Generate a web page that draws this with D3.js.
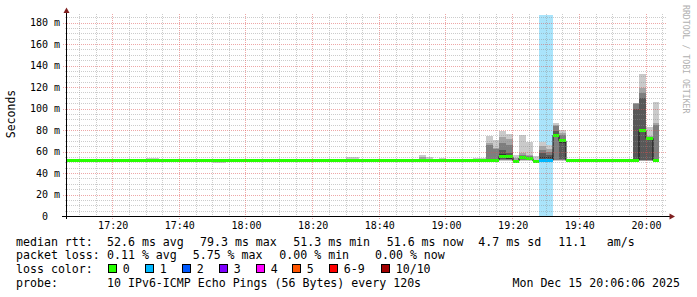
<!DOCTYPE html>
<html><head><meta charset="utf-8">
<script src="https://cdn.jsdelivr.net/npm/d3@7"></script>
<style>
html,body{margin:0;padding:0;background:#fff;}
svg{display:block;}
text{font-family:"DejaVu Sans Mono",monospace;}
</style></head><body>
<svg id="c" width="697" height="297"></svg>
<script>
// ---------- data ----------
const startTime = new Date(2025, 11, 15, 17, 6, 0);
const endTime = new Date(2025, 11, 15, 20, 6, 0);
const stepSeconds = 120;
// median rtt (ms) per 120 s step
const medians = [
  51.7,51.6,51.7,51.8,51.7,51.6,51.7,51.7,51.8,51.7,
  51.7,51.8,51.9,52.0,51.9,51.7,51.6,51.7,51.7,51.6,
  51.6,51.5,51.4,51.3,51.6,51.7,51.7,51.8,51.7,51.6,
  51.7,51.7,51.6,51.7,51.8,51.7,51.7,51.6,51.7,51.7,
  51.8,51.9,51.9,51.9,51.8,51.7,51.6,51.5,51.5,51.5,
  51.5,51.6,51.7,51.9,51.9,51.6,51.9,51.8,51.7,51.7,
  51.8,51.9,51.9,51.9,51.9,55.5,55.0,51.0,54.0,53.5,
  51.0,51.9,51.9,75.3,70.0,51.6,51.7,51.7,51.8,51.7,
  51.7,51.6,51.7,51.7,51.6,51.8,79.3,72.3,51.6
];
// steps with packet loss (%)
const lossSteps = [71, 72];
const lossValues = [5.75, 4.05];
// sorted 10 pings (ms) for steps with visible smoke
const smokeSteps = [12,13,22,23,42,43,53,54,56,61,62,63,64,65,66,67,68,69,70,71,72,73,74,85,86,87,88];
const smokePings = [
  [51.5,51.6,51.7,51.8,51.9,52.0,52.1,52.3,52.8,53.8],
  [51.6,51.7,51.8,51.9,52.0,52.0,52.2,52.4,53.0,54.0],
  [49.2,50.3,50.8,51.1,51.3,51.4,51.5,51.6,51.8,52.0],
  [49.4,50.4,50.9,51.1,51.2,51.3,51.4,51.5,51.7,51.9],
  [51.5,51.7,51.8,52.0,52.1,52.1,52.3,52.6,53.5,55.0],
  [51.4,51.6,51.8,51.9,52.0,52.0,52.2,52.5,53.4,54.8],
  [51.6,51.8,52.0,52.1,52.2,52.2,52.4,53.0,54.5,56.7],
  [51.5,51.7,51.8,51.9,52.0,52.0,52.2,52.6,53.5,55.2],
  [51.4,51.6,51.7,51.8,51.9,51.9,52.1,52.4,53.0,54.2],
  [51.5,51.6,51.7,51.8,51.9,52.0,52.2,52.5,53.2,54.0],
  [51.6,51.7,51.8,51.9,52.0,52.1,52.3,52.7,53.4,54.3],
  [51.0,51.3,51.5,51.7,51.9,52.0,52.5,66.0,67.5,74.7],
  [51.0,51.3,51.5,51.7,51.9,52.0,52.4,62.5,63.5,71.0],
  [51.5,52.0,52.5,53.5,54.0,58.0,61.4,68.0,73.8,79.0],
  [51.5,52.0,52.5,53.0,53.5,56.5,58.9,66.0,71.6,76.6],
  [51.0,51.2,51.3,51.4,51.5,51.6,51.8,52.5,54.0,56.7],
  [51.5,52.0,52.5,53.0,53.5,54.5,55.8,57.0,58.3,75.6],
  [51.5,51.8,52.0,52.5,53.0,54.0,54.5,55.5,56.7,69.0],
  [50.5,50.7,50.8,50.9,51.0,51.1,51.2,51.4,52.0,55.8],
  [51.0,51.5,52.0,53.0,54.0,55.0,58.3,61.4,65.0,69.0],
  [51.0,51.5,52.0,53.0,54.0,55.0,57.0,59.8,62.0,66.0],
  [51.5,52.0,52.5,74.0,75.0,75.5,79.4,83.7,84.5,86.8],
  [51.5,52.0,52.5,53.0,68.0,70.0,72.0,75.0,77.5,80.0],
  [51.0,51.3,51.6,52.0,52.0,52.0,100.0,104.0,104.8,105.4],
  [51.0,51.5,52.0,52.5,78.0,80.0,110.0,114.7,118.8,132.0],
  [51.0,51.5,52.0,52.5,71.0,72.5,73.0,73.5,74.0,83.0],
  [51.0,51.3,51.5,51.7,51.9,52.0,52.5,85.0,86.5,106.3]
];
const yTickValues = [0,20,40,60,80,100,120,140,160,180];
const smokeColors = ["#cacaca","#a4a4a4","#7e7e7e","#585858","#323232"];
const lossLabels = ["0","1","2","3","4","5","6-9","10/10"];
const lossColors = ["#26ff00","#00b8ff","#0059ff","#7e00ff","#ff00ff","#ff5500","#ff0000","#a10000"];
const rttLegend = [["median rtt:",16],["52.6 ms avg",107],["79.3 ms max",200],["51.3 ms min",293.3],["51.6 ms now",386.7],["4.7 ms sd",478.3],["11.1",558.3],["am/s",606.7]];
const lossLegend = [["packet loss:",16],["0.11 % avg",107],["5.75 % max",192.7],["0.00 % min",279.3],["0.00 % now",375]];
const probeText = "10 IPv6-ICMP Echo Pings (56 Bytes) every 120s";
const dateText = "Mon Dec 15 20:06:06 2025";

// ---------- chart ----------
const svg = d3.select("#c");
const L = 66, R = 666, T = 14, B = 216;
const x = d3.scaleTime().domain([startTime, endTime]).range([L, R]);
const y = d3.scaleLinear().domain([0, 188]).range([B, T]);
const tOf = i => new Date(startTime.getTime() + i * stepSeconds * 1000);
const px = i => Math.round(x(tOf(i)));

svg.append("rect").attr("width",697).attr("height",297).attr("fill","#fff");

// loss bands
svg.append("g").selectAll("rect").data(lossSteps).join("rect")
  .attr("x", d => px(d)).attr("width", d => px(d+1) - px(d))
  .attr("y", T + 1).attr("height", B - T - 1)
  .attr("fill", "#aae4fb");

// smoke
const sg = svg.append("g").attr("shape-rendering","crispEdges");
smokeSteps.forEach((s, k) => {
  const p = smokePings[k];
  for (let l = 0; l < 5; l++) {
    const lo = p[l], hi = p[9 - l];
    if (hi - lo <= 0) continue;
    sg.append("rect")
      .attr("x", px(s)).attr("width", px(s+1) - px(s))
      .attr("y", y(hi)).attr("height", y(lo) - y(hi))
      .attr("fill", smokeColors[l]);
  }
});

// median step line (black) then coloured median segments
const medPts = medians.map((m, i) => [i, m]).concat([[medians.length, medians[medians.length-1]]]);
svg.append("path")
  .attr("d", d3.line().x(d => px(d[0])).y(d => y(d[1])).curve(d3.curveStepAfter)(medPts))
  .attr("fill","none").attr("stroke","#111").attr("stroke-width",1);
const lossOf = i => { const j = lossSteps.indexOf(i); return j < 0 ? 0 : lossValues[j]; };
svg.append("g").attr("shape-rendering","crispEdges").selectAll("rect").data(medians).join("rect")
  .attr("x", (d, i) => px(i)).attr("width", (d, i) => px(i+1) - px(i))
  .attr("y", d => Math.round(y(d) - 1.5)).attr("height", 3)
  .attr("fill", (d, i) => lossOf(i) > 0 ? lossColors[1] : lossColors[0]);

// grid (drawn on top, translucent, dotted)
const gg = svg.append("g").attr("shape-rendering","crispEdges");
d3.range(5, 188, 5).forEach(v => {
  const yy = Math.round(y(v)) + 0.5;
  const major = v % 20 === 0;
  gg.append("line").attr("x1", L - (major ? 3 : 1)).attr("x2", R).attr("y1", yy).attr("y2", yy)
    .attr("stroke", major ? "rgba(222,80,80,0.5)" : "rgba(143,143,143,0.45)")
    .attr("stroke-dasharray", "1,1");
});
x.ticks(d3.timeMinute.every(5)).forEach(t => {
  const xx = Math.floor(x(t)) + 0.5;
  const major = t.getMinutes() % 20 === 0;
  gg.append("line").attr("x1", xx).attr("x2", xx).attr("y1", T).attr("y2", B + (major ? 3 : 1))
    .attr("stroke", major ? "rgba(222,80,80,0.5)" : "rgba(143,143,143,0.45)")
    .attr("stroke-dasharray", "1,1");
});

// axes lines
svg.append("line").attr("x1", 62).attr("x2", 670).attr("y1", B + 0.5).attr("y2", B + 0.5)
  .attr("stroke","#000").attr("shape-rendering","crispEdges");
svg.append("line").attr("x1", L + 0.5).attr("x2", L + 0.5).attr("y1", B + 3).attr("y2", 12)
  .attr("stroke","#000").attr("shape-rendering","crispEdges");
svg.append("path").attr("d", `M${L+0.5},7.5L${L+3.5},13L${L-2.5},13Z`).attr("fill","#7f1f1f");
svg.append("path").attr("d", `M675,${B+0.5}L669.5,${B-2.5}L669.5,${B+3.5}Z`).attr("fill","#7f1f1f");

// axis labels via d3 axes
const yAxis = svg.append("g").attr("transform", `translate(${L},0)`)
  .call(d3.axisLeft(y).tickValues(yTickValues).tickSize(0).tickPadding(6)
    .tickFormat(d => d === 0 ? "0\u00a0\u00a0" : d + " m"));
yAxis.select(".domain").remove();
yAxis.selectAll("text").attr("font-family","DejaVu Sans Mono").attr("font-size","10px").attr("fill","#000");

const xAxis = svg.append("g").attr("transform", `translate(0,${B})`)
  .call(d3.axisBottom(x).ticks(d3.timeMinute.every(20)).tickSize(0).tickPadding(6)
    .tickFormat(d3.timeFormat("%H:%M")));
xAxis.select(".domain").remove();
xAxis.selectAll("text").attr("font-family","DejaVu Sans Mono").attr("font-size","10px").attr("fill","#000");

// y title
svg.append("text").attr("transform","translate(15,114) rotate(-90)")
  .attr("text-anchor","middle").attr("font-family","DejaVu Sans").attr("font-size","11.5px")
  .attr("fill","#000").text("Seconds");

// watermark
svg.append("text").attr("transform","translate(682.5,5) rotate(90)")
  .attr("font-family","DejaVu Sans Mono").attr("font-size","8.2px").attr("fill","#b0b0b0")
  .text("RRDTOOL / TOBI OETIKER");

// legend
const fs = "11.6px";
const rows = [245.5, 259.4, 273.3, 287.2];
const leg = svg.append("g").attr("font-family","DejaVu Sans Mono").attr("font-size",fs).attr("fill","#000");
rttLegend.forEach(([t, xx]) => leg.append("text").attr("x", xx).attr("y", rows[0]).text(t));
lossLegend.forEach(([t, xx]) => leg.append("text").attr("x", xx).attr("y", rows[1]).text(t));
leg.append("text").attr("x", 16).attr("y", rows[2]).text("loss color:");
const boxX = [108.5, 145.5, 182.5, 219.5, 256.5, 292.5, 329.5, 381.5];
lossLabels.forEach((lab, i) => {
  leg.append("rect").attr("x", boxX[i]).attr("y", 264.5).attr("width", 8).attr("height", 8)
    .attr("fill", lossColors[i]).attr("stroke","#000").attr("stroke-width",1);
  leg.append("text").attr("x", boxX[i] + 14.2).attr("y", rows[2]).text(lab);
});
leg.append("text").attr("x", 16).attr("y", rows[3]).text("probe:");
leg.append("text").attr("x", 107).attr("y", rows[3]).text(probeText);
leg.append("text").attr("x", 680).attr("y", rows[3]).attr("text-anchor","end").text(dateText);
</script>
</body></html>
